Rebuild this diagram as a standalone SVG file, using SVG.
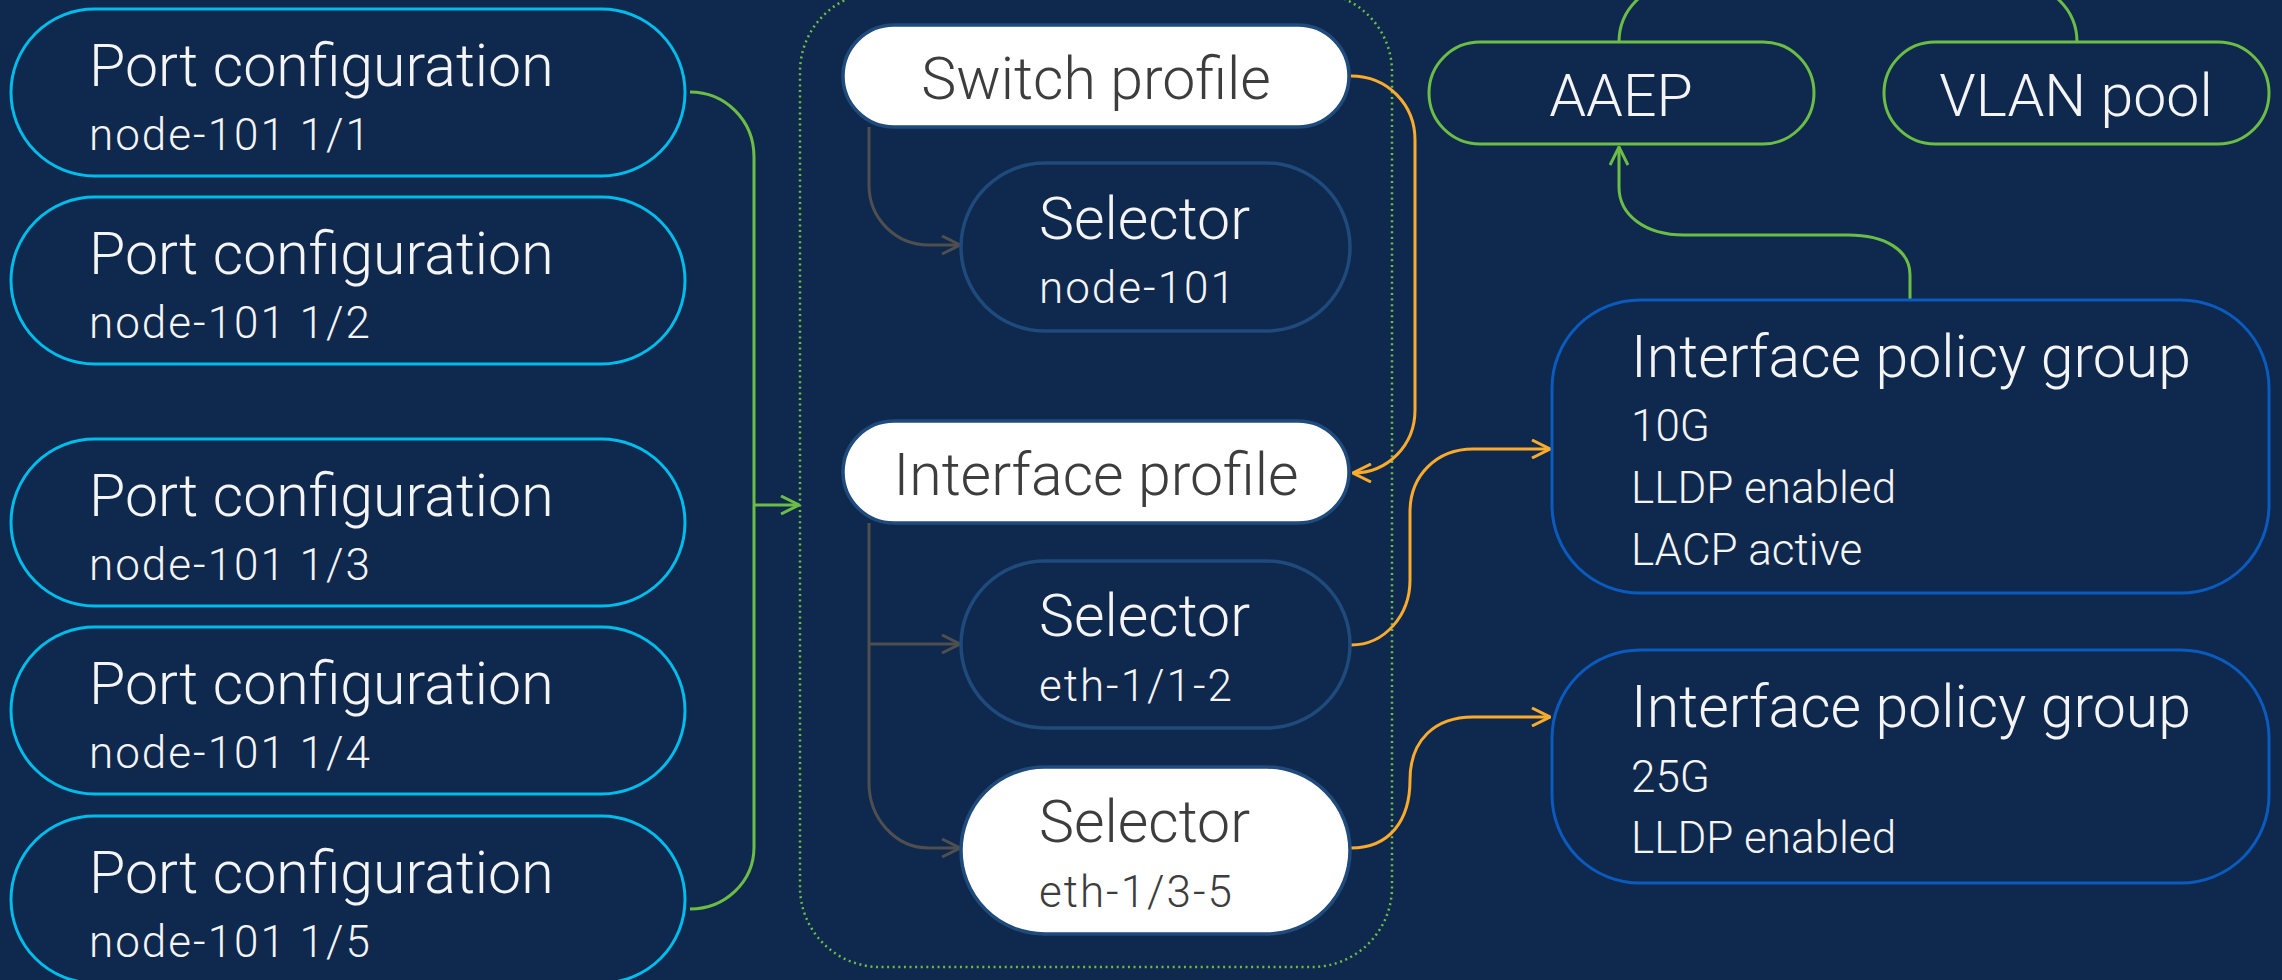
<svg xmlns="http://www.w3.org/2000/svg" width="2282" height="980" viewBox="0 0 2282 980">
  <style>
    .bg { fill: #0f284d; }
    .port { fill: #0f284d; stroke: #00bceb; stroke-width: 3; }
    .dark { fill: #0f284d; stroke: #1f4a7c; stroke-width: 3.5; }
    .light { fill: #ffffff; stroke: #1f4a7c; stroke-width: 3.5; }
    .green { fill: #0f284d; stroke: #6cbd45; stroke-width: 3; }
    .policy { fill: #0f284d; stroke: #0a5bbd; stroke-width: 3; }
    .scope { fill: none; stroke: #6cbd45; stroke-width: 2.5; stroke-dasharray: 2 3.6; }
    text { font-family: Roboto, "Liberation Sans", Arial, sans-serif; font-weight: 300; }
    .t { font-size: 59px; fill: #f4f4f4; }
    .s { font-size: 44px; fill: #f4f4f4; }
    .id { letter-spacing: 2px; }
    .td { fill: #3d3d3d; }
    .mid { text-anchor: middle; }
    .c-green { fill: none; stroke: #6cbd45; stroke-width: 3; }
    .c-gray { fill: none; stroke: #4f4f4f; stroke-width: 3; }
    .c-orange { fill: none; stroke: #fbab2c; stroke-width: 3; }
  </style>
  <defs>
    <marker id="arrow-green" viewBox="0 0 20 20" refX="19" refY="10" markerWidth="20" markerHeight="20" markerUnits="userSpaceOnUse" orient="auto">
      <path d="M1,1 L19,10 L1,19" fill="none" stroke="#6cbd45" stroke-width="3"/>
    </marker>
    <marker id="arrow-gray" viewBox="0 0 20 20" refX="19" refY="10" markerWidth="20" markerHeight="20" markerUnits="userSpaceOnUse" orient="auto">
      <path d="M1,1 L19,10 L1,19" fill="none" stroke="#4f4f4f" stroke-width="3"/>
    </marker>
    <marker id="arrow-orange" viewBox="0 0 20 20" refX="19" refY="10" markerWidth="20" markerHeight="20" markerUnits="userSpaceOnUse" orient="auto">
      <path d="M1,1 L19,10 L1,19" fill="none" stroke="#fbab2c" stroke-width="3"/>
    </marker>
  </defs>

  <rect class="bg" x="0" y="0" width="2282" height="980"/>

  <!-- switch / interface profile scope -->
  <rect id="profile-scope" class="scope" x="800" y="-8" width="592" height="975" rx="80" ry="80"/>

  <!-- connectors -->
  <g id="connectors">
    <!-- port configurations into the profile scope -->
    <path class="c-green" d="M690,92 C725,92 754,120 754,157 V847 C754,882 725,909 690,909"/>
    <path class="c-green" d="M754,505 H799" marker-end="url(#arrow-green)"/>
    <!-- profiles to selectors -->
    <path class="c-gray" d="M869,127 V185 C869,218 895,245 929,245 H960" marker-end="url(#arrow-gray)"/>
    <path class="c-gray" d="M869,523 V783 C869,818 895,848 929,848 H960" marker-end="url(#arrow-gray)"/>
    <path class="c-gray" d="M869,644 H960" marker-end="url(#arrow-gray)"/>
    <!-- switch profile to interface profile -->
    <path class="c-orange" d="M1351,76 C1388,76 1415,105 1415,140 V410 C1415,445 1388,473 1353,473" marker-end="url(#arrow-orange)"/>
    <!-- selectors to policy groups -->
    <path class="c-orange" d="M1351,645 C1385,645 1410,615 1410,580 V512 C1410,475 1437,449 1473,449 H1550" marker-end="url(#arrow-orange)"/>
    <path class="c-orange" d="M1351,848 C1390,848 1410,820 1410,780 C1410,740 1435,717 1473,717 H1550" marker-end="url(#arrow-orange)"/>
    <!-- policy group to AAEP -->
    <path class="c-green" d="M1910,300 V275 C1910,250 1885,235 1848,235 H1684 C1645,235 1619,215 1619,187 V147" marker-end="url(#arrow-green)"/>
    <!-- AAEP to VLAN pool -->
    <path class="c-green" d="M1619,42 A58,58 0 0 1 1677,-16 H2019 A58,58 0 0 1 2077,42"/>
  </g>

  <!-- port configurations -->
  <g id="port-1-1">
    <rect class="port" x="11" y="9" width="674" height="167" rx="83.5"/>
    <text class="t" x="89" y="86">Port configuration</text>
    <text class="s id" x="89" y="150">node-101 1/1</text>
  </g>
  <g id="port-1-2">
    <rect class="port" x="11" y="197" width="674" height="167" rx="83.5"/>
    <text class="t" x="89" y="274">Port configuration</text>
    <text class="s id" x="89" y="338">node-101 1/2</text>
  </g>
  <g id="port-1-3">
    <rect class="port" x="11" y="439" width="674" height="167" rx="83.5"/>
    <text class="t" x="89" y="516">Port configuration</text>
    <text class="s id" x="89" y="580">node-101 1/3</text>
  </g>
  <g id="port-1-4">
    <rect class="port" x="11" y="627" width="674" height="167" rx="83.5"/>
    <text class="t" x="89" y="704">Port configuration</text>
    <text class="s id" x="89" y="768">node-101 1/4</text>
  </g>
  <g id="port-1-5">
    <rect class="port" x="11" y="816" width="674" height="167" rx="83.5"/>
    <text class="t" x="89" y="893">Port configuration</text>
    <text class="s id" x="89" y="957">node-101 1/5</text>
  </g>

  <!-- profiles and selectors -->
  <g id="switch-profile">
    <rect class="light" x="843" y="25" width="506" height="102" rx="51"/>
    <text class="t td mid" x="1096" y="99">Switch profile</text>
  </g>
  <g id="selector-node-101">
    <rect class="dark" x="961" y="163" width="389" height="168" rx="84"/>
    <text class="t" x="1039" y="239">Selector</text>
    <text class="s id" x="1039" y="303">node-101</text>
  </g>
  <g id="interface-profile">
    <rect class="light" x="843" y="421" width="506" height="102" rx="51"/>
    <text class="t td mid" x="1096" y="495">Interface profile</text>
  </g>
  <g id="selector-eth-1-1-2">
    <rect class="dark" x="961" y="561" width="389" height="167" rx="83.5"/>
    <text class="t" x="1039" y="636">Selector</text>
    <text class="s id" x="1039" y="701">eth-1/1-2</text>
  </g>
  <g id="selector-eth-1-3-5">
    <rect class="light" x="961" y="767" width="389" height="167" rx="83.5"/>
    <text class="t td" x="1039" y="842">Selector</text>
    <text class="s id td" x="1039" y="907">eth-1/3-5</text>
  </g>

  <!-- access entities -->
  <g id="aaep">
    <rect class="green" x="1429" y="42" width="385" height="102" rx="51"/>
    <text class="t mid" x="1621" y="116">AAEP</text>
  </g>
  <g id="vlan-pool">
    <rect class="green" x="1884" y="42" width="385" height="102" rx="51"/>
    <text class="t mid" x="2076" y="116">VLAN pool</text>
  </g>

  <!-- interface policy groups -->
  <g id="policy-group-10g">
    <rect class="policy" x="1552" y="300" width="717" height="293" rx="88"/>
    <text class="t" x="1631" y="377">Interface policy group</text>
    <text class="s" x="1631" y="441">10G</text>
    <text class="s" x="1631" y="503">LLDP enabled</text>
    <text class="s" x="1631" y="565">LACP active</text>
  </g>
  <g id="policy-group-25g">
    <rect class="policy" x="1552" y="650" width="717" height="233" rx="88"/>
    <text class="t" x="1631" y="727">Interface policy group</text>
    <text class="s" x="1631" y="792">25G</text>
    <text class="s" x="1631" y="853">LLDP enabled</text>
  </g>
</svg>
